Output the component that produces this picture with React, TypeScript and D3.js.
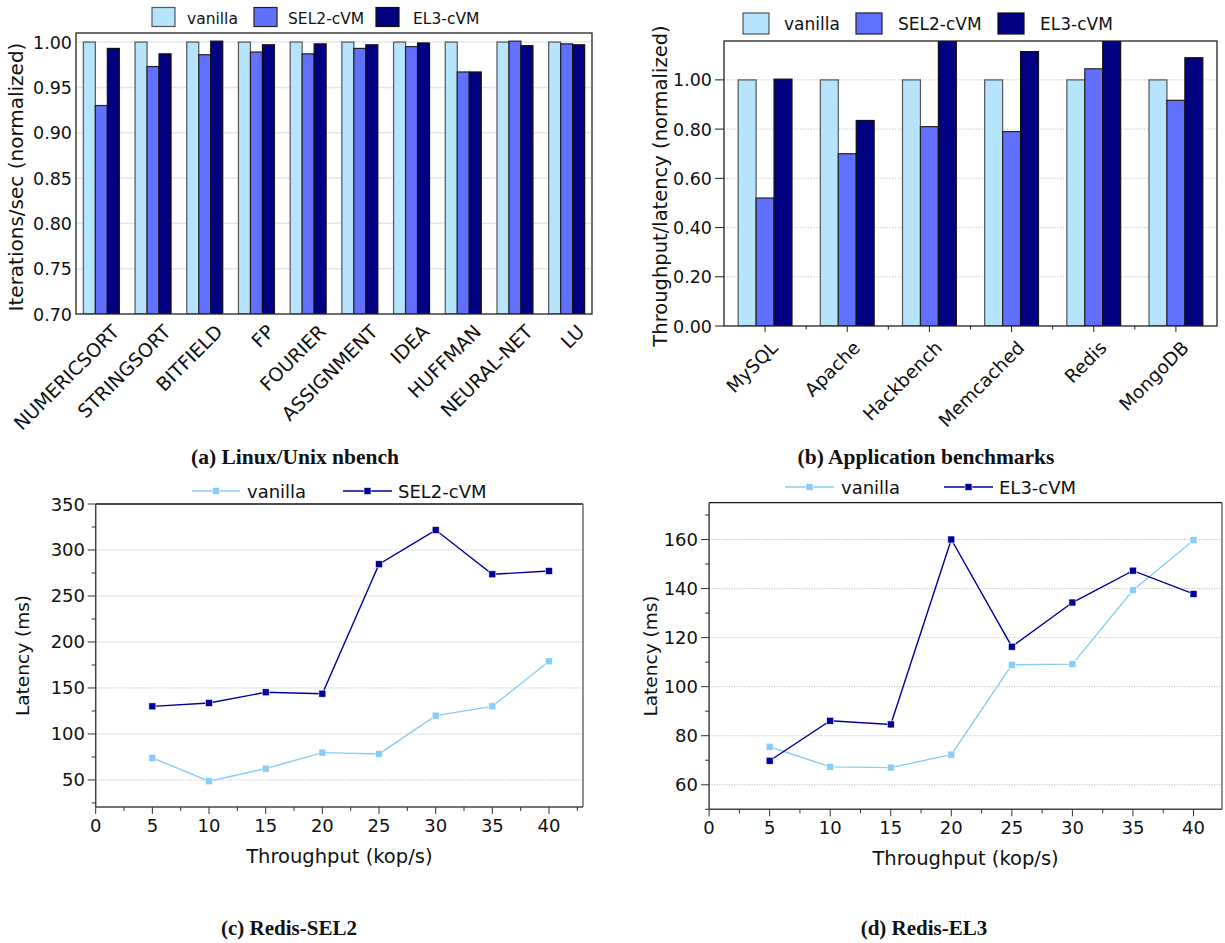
import React from 'react';
import * as d3 from 'd3';

// ---------- data ----------
const seriesNames = ['vanilla', 'SEL2-cVM', 'EL3-cVM'];

const nbenchCats = ['NUMERICSORT', 'STRINGSORT', 'BITFIELD', 'FP', 'FOURIER', 'ASSIGNMENT', 'IDEA', 'HUFFMAN', 'NEURAL-NET', 'LU'];
const nbenchVanilla = [1, 1, 1, 1, 1, 1, 1, 1, 1, 1];
const nbenchSEL2 = [0.930, 0.973, 0.986, 0.989, 0.987, 0.993, 0.995, 0.967, 1.001, 0.998];
const nbenchEL3 = [0.993, 0.987, 1.001, 0.997, 0.998, 0.997, 0.999, 0.967, 0.996, 0.997];
const nbenchTicks = [0.70, 0.75, 0.80, 0.85, 0.90, 0.95, 1.00];

const appCats = ['MySQL', 'Apache', 'Hackbench', 'Memcached', 'Redis', 'MongoDB'];
const appVanilla = [1, 1, 1, 1, 1, 1];
const appSEL2 = [0.52, 0.70, 0.81, 0.79, 1.045, 0.917];
const appEL3 = [1.003, 0.835, 1.25, 1.115, 1.2, 1.09];
const appTicks = [0, 0.2, 0.4, 0.6, 0.8, 1.0];

const throughput = [5, 10, 15, 20, 25, 30, 35, 40];
const sel2Vanilla = [74, 48.6, 62.3, 79.7, 78.3, 119.9, 130, 179];
const sel2CVM = [130, 133.7, 145.3, 143.8, 284.5, 321.7, 273.6, 277.2];
const el3Vanilla = [75.5, 67.3, 67.0, 72.3, 108.9, 109.2, 139.3, 159.7];
const el3CVM = [69.8, 86.1, 84.6, 160, 116.3, 134.3, 147.3, 137.8];

const xMajor = [0, 5, 10, 15, 20, 25, 30, 35, 40];
const xMinor = [2.5, 7.5, 12.5, 17.5, 22.5, 27.5, 32.5, 37.5, 42.5];
const sel2YMajor = [50, 100, 150, 200, 250, 300, 350];
const sel2YMinor = [25, 75, 125, 175, 225, 275, 325];
const el3YMajor = [60, 80, 100, 120, 140, 160];
const el3YMinor = [50, 70, 90, 110, 130, 150, 170];

const barColors = ['#b5e4fc', '#6170ff', '#000080'];
const barStrokes = ['#555', '#222', '#111'];
const lineVanilla = '#87cdfa';
const lineCVM = '#00009c';

const FONT = "'DejaVu Sans', sans-serif";
const SERIF = "'Liberation Serif', serif";

function BarChart(p: any) {
  const { left, right, top, bottom, cats, values, yDomain, yTicks, padIn, padOut } = p;
  const x0 = d3.scaleBand<string>().domain(cats).range([left, right]).paddingInner(padIn).paddingOuter(padOut);
  const x1 = d3.scaleBand<string>().domain(seriesNames).range([0, x0.bandwidth()]);
  const y = d3.scaleLinear().domain(yDomain).range([bottom, top]);
  const fmt = d3.format('.2f');
  const step = x0.step();
  return (
    <g>
      <defs>
        <clipPath id={p.clipId}>
          <rect x={left} y={top} width={right - left} height={bottom - top} />
        </clipPath>
      </defs>
      {yTicks.map((t: number) =>
        t === yDomain[0] ? null : (
          <line key={'g' + t} x1={left} x2={right} y1={y(t)} y2={y(t)}
            stroke={p.grid === 'solid' ? '#e6e6e6' : '#bdbdbd'}
            strokeWidth={p.grid === 'solid' ? 1.5 : 0.9}
            strokeDasharray={p.grid === 'solid' ? undefined : '1.2,1.6'} />
        )
      )}
      <g clipPath={`url(#${p.clipId})`}>
        {cats.map((c: string, i: number) =>
          seriesNames.map((s, j) => {
            const v = values[j][i];
            return (
              <rect key={c + s} x={(x0(c) as number) + (x1(s) as number)} y={y(v)}
                width={x1.bandwidth()} height={bottom - y(v)}
                fill={barColors[j]} stroke={barStrokes[j]} strokeWidth={1.2} />
            );
          })
        )}
      </g>
      <rect x={left} y={top} width={right - left} height={bottom - top} fill="none" stroke="#222" strokeWidth={1.3} />
      {yTicks.map((t: number) => (
        <g key={'t' + t}>
          {p.yTickLen > 0 && <line x1={left - p.yTickLen} x2={left} y1={y(t)} y2={y(t)} stroke="#222" strokeWidth={1} />}
          <text x={p.yLabelX} y={y(t) + 6.5} textAnchor="end" fontFamily={FONT} fontSize={p.tickSize} fill="#111">{fmt(t)}</text>
        </g>
      ))}
      {p.xTicks && cats.map((c: string, i: number) => (
        <g key={'xt' + c}>
          <line x1={(x0(c) as number) + x0.bandwidth() / 2} x2={(x0(c) as number) + x0.bandwidth() / 2} y1={bottom} y2={bottom + 6} stroke="#222" />
          {i < cats.length - 1 && (
            <line x1={(x0(c) as number) + x0.bandwidth() + (step - x0.bandwidth()) / 2} x2={(x0(c) as number) + x0.bandwidth() + (step - x0.bandwidth()) / 2} y1={bottom} y2={bottom + 3.5} stroke="#222" />
          )}
        </g>
      ))}
      {cats.map((c: string) => {
        const cx = (x0(c) as number) + x0.bandwidth() / 2 + p.labelDx;
        const cy = bottom + p.labelDy;
        return (
          <text key={'xl' + c} transform={`translate(${cx},${cy}) rotate(-45)`} textAnchor="end"
            fontFamily={FONT} fontSize={p.labelSize} fill="#111">{c}</text>
        );
      })}
      <text transform={`translate(${p.ylabelX},${p.ylabelY}) rotate(-90)`} textAnchor="middle"
        fontFamily={FONT} fontSize={p.ylabelSize} fill="#111">{p.ylabel}</text>
      {seriesNames.map((s, j) => (
        <g key={'lg' + s}>
          <rect x={p.legSw[j]} y={p.legY} width={p.legW} height={p.legH} fill={barColors[j]} stroke={barStrokes[j]} strokeWidth={1.2} />
          <text x={p.legTx[j]} y={p.legTextY} fontFamily={FONT} fontSize={p.legFont} fill="#111">{s}</text>
        </g>
      ))}
    </g>
  );
}

function LineChart(p: any) {
  const { left, right, top, bottom } = p;
  const x = d3.scaleLinear().domain(p.xDomain).range([left, right]);
  const y = d3.scaleLinear().domain(p.yDomain).range([bottom, top]);
  const line = d3.line<number>().x((_, i) => x(throughput[i])).y((d) => y(d));
  const series = [
    { name: 'vanilla', vals: p.vanilla, color: lineVanilla },
    { name: p.cvmName, vals: p.cvm, color: lineCVM },
  ];
  const ms = 7;
  return (
    <g>
      {p.yMajor.map((t: number) =>
        t >= p.yDomain[1] ? null : (
          <line key={'g' + t} x1={left} x2={right} y1={y(t)} y2={y(t)} stroke="#b0b0b0" strokeWidth={0.9} strokeDasharray="1,1.5" />
        )
      )}
      {series.map((s) => (
        <g key={s.name}>
          <path d={line(s.vals) as string} fill="none" stroke={s.color} strokeWidth={1.4} />
          {s.vals.map((v: number, i: number) => (
            <rect key={i} x={x(throughput[i]) - ms / 2} y={y(v) - ms / 2} width={ms} height={ms} fill={s.color} stroke="#fff" strokeWidth={0.6} />
          ))}
        </g>
      ))}
      <line x1={left} x2={right} y1={top} y2={top} stroke="#111" strokeWidth={1.3} />
      <line x1={right} x2={right} y1={top} y2={bottom} stroke="#555" strokeWidth={1.3} />
      <line x1={left} x2={left} y1={top} y2={bottom} stroke="#444" strokeWidth={1.5} />
      <line x1={left} x2={right} y1={bottom} y2={bottom} stroke="#444" strokeWidth={1.5} />
      {p.yMajor.map((t: number) => (
        <g key={'ym' + t}>
          <line x1={left - 8} x2={left} y1={y(t)} y2={y(t)} stroke="#333" strokeWidth={1} />
          <text x={p.yLabelX} y={y(t) + 6.5} textAnchor="end" fontFamily={FONT} fontSize={18} fill="#111">{t}</text>
        </g>
      ))}
      {p.yMinor.map((t: number) => (
        <line key={'yn' + t} x1={left - 4} x2={left} y1={y(t)} y2={y(t)} stroke="#333" strokeWidth={1} />
      ))}
      {xMajor.map((t) => (
        <g key={'xm' + t}>
          <line x1={x(t)} x2={x(t)} y1={bottom} y2={bottom + 7} stroke="#333" strokeWidth={1} />
          <text x={x(t)} y={bottom + 25} textAnchor="middle" fontFamily={FONT} fontSize={18} fill="#111">{t}</text>
        </g>
      ))}
      {xMinor.filter((t) => x(t) <= right + 0.5).map((t) => (
        <line key={'xn' + t} x1={x(t)} x2={x(t)} y1={bottom} y2={bottom + 4} stroke="#333" strokeWidth={1} />
      ))}
      <text x={(left + right) / 2} y={bottom + 56} textAnchor="middle" fontFamily={FONT} fontSize={19.5} fill="#111">Throughput (kop/s)</text>
      <text transform={`translate(${p.ylabelX},${(top + bottom) / 2}) rotate(-90)`} textAnchor="middle" fontFamily={FONT} fontSize={18.5} fill="#111">Latency (ms)</text>
      {series.map((s, j) => (
        <g key={'lg' + s.name}>
          <line x1={p.legLine[j][0]} x2={p.legLine[j][1]} y1={p.legY} y2={p.legY} stroke={s.color} strokeWidth={1.4} />
          <rect x={(p.legLine[j][0] + p.legLine[j][1]) / 2 - ms / 2} y={p.legY - ms / 2} width={ms} height={ms} fill={s.color} stroke="#fff" strokeWidth={0.6} />
          <text x={p.legTx[j]} y={p.legY + 6.5} fontFamily={FONT} fontSize={18} fill="#111">{s.name}</text>
        </g>
      ))}
    </g>
  );
}

export default function App() {
  return (
    <svg width={1225} height={943} viewBox="0 0 1225 943" style={{ position: 'absolute', left: 0, top: 0, background: '#fff' }}>
      <rect x={0} y={0} width={1225} height={943} fill="#fff" />
      <BarChart
        clipId="clipA" left={76} right={592} top={33} bottom={314}
        cats={nbenchCats} values={[nbenchVanilla, nbenchSEL2, nbenchEL3]}
        yDomain={[0.70, 1.01]} yTicks={nbenchTicks} padIn={0.304} padOut={0.142}
        grid="solid" yTickLen={0} yLabelX={72} tickSize={17.5}
        xTicks={false} labelDx={19} labelDy={19} labelSize={19}
        ylabel="Iterations/sec (normalized)" ylabelX={23} ylabelY={177} ylabelSize={20}
        legSw={[152, 254, 376]} legTx={[187, 288, 413]} legY={7.5} legW={23} legH={19}
        legTextY={24} legFont={15.5}
      />
      <BarChart
        clipId="clipB" left={724} right={1217} top={41} bottom={326}
        cats={appCats} values={[appVanilla, appSEL2, appEL3]}
        yDomain={[0, 1.158]} yTicks={appTicks} padIn={0.345} padOut={0.1725}
        grid="dotted" yTickLen={9} yLabelX={712} tickSize={17.5}
        xTicks={true} labelDx={14} labelDy={23} labelSize={18.5}
        ylabel="Throughput/latency (normalized)" ylabelX={667} ylabelY={186} ylabelSize={19.5}
        legSw={[743, 856, 998]} legTx={[784, 898, 1040]} legY={13} legW={26} legH={21}
        legTextY={30} legFont={17}
      />
      <LineChart
        left={95.7} right={583} top={504} bottom={807}
        xDomain={[0, 43]} yDomain={[20.6, 350]}
        yMajor={sel2YMajor} yMinor={sel2YMinor}
        vanilla={sel2Vanilla} cvm={sel2CVM} cvmName="SEL2-cVM"
        yLabelX={85} ylabelX={29}
        legLine={[[192, 240], [343, 392]]} legTx={[247, 398]} legY={491}
      />
      <LineChart
        left={709.1} right={1222} top={502.7} bottom={809.3}
        xDomain={[0, (1222 - 709.1) / 12.11]} yDomain={[50, 175]}
        yMajor={el3YMajor} yMinor={el3YMinor}
        vanilla={el3Vanilla} cvm={el3CVM} cvmName="EL3-cVM"
        yLabelX={698} ylabelX={657}
        legLine={[[785, 834], [944, 993]]} legTx={[841, 999]} legY={487}
      />
      <text x={295} y={464} textAnchor="middle" fontFamily={SERIF} fontWeight="bold" fontSize={21.5} fill="#111">(a) Linux/Unix nbench</text>
      <text x={926} y={464} textAnchor="middle" fontFamily={SERIF} fontWeight="bold" fontSize={21.5} fill="#111">(b) Application benchmarks</text>
      <text x={289} y={935} textAnchor="middle" fontFamily={SERIF} fontWeight="bold" fontSize={21} fill="#111">(c) Redis-SEL2</text>
      <text x={924} y={935} textAnchor="middle" fontFamily={SERIF} fontWeight="bold" fontSize={21} fill="#111">(d) Redis-EL3</text>
    </svg>
  );
}
